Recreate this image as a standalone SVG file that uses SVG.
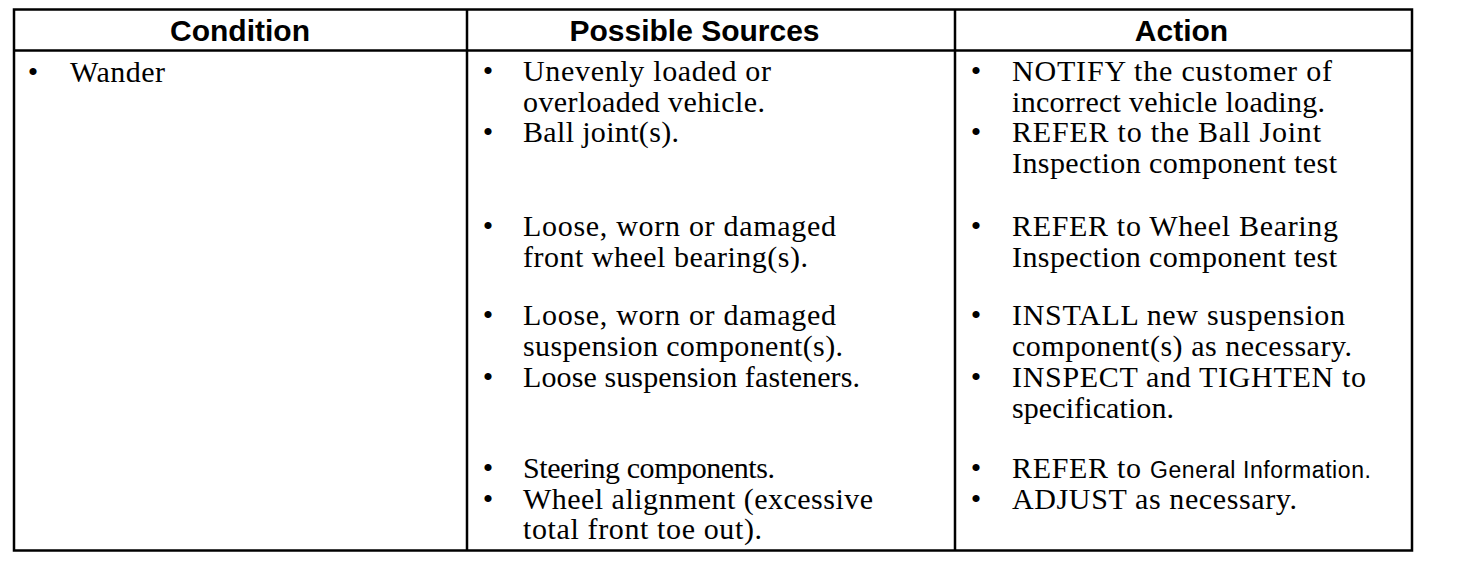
<svg xmlns="http://www.w3.org/2000/svg" width="1472" height="566" viewBox="0 0 1472 566">
<style>
.h{font-family:"Liberation Sans",Arial,sans-serif;font-weight:bold;font-size:30px;fill:#000}
.t{font-family:"Liberation Serif","Times New Roman",serif;font-size:30px;fill:#000}
.s{font-family:"Liberation Sans",Arial,sans-serif;font-size:23px;fill:#000}
.b{font-family:"Liberation Serif","Times New Roman",serif;font-size:30px;fill:#000;text-anchor:middle}
.ln{stroke:#000;stroke-width:2.5;fill:none}
</style>
<rect width="1472" height="566" fill="#fff"/>
<g id="table">
<rect class="ln" x="14" y="9.5" width="1398" height="541"/>
<line class="ln" x1="14" y1="50.5" x2="1412" y2="50.5"/>
<line class="ln" x1="467" y1="9.5" x2="467" y2="550.5"/>
<line class="ln" x1="955" y1="9.5" x2="955" y2="550.5"/>
</g>
<g id="header">
<text class="h" x="240" y="41" text-anchor="middle">Condition</text>
<text class="h" x="694.5" y="41" text-anchor="middle">Possible Sources</text>
<text class="h" x="1181.5" y="41" text-anchor="middle">Action</text>
</g>
<g id="condition">
<text class="b" x="33" y="82">•</text>
<text class="t" x="70" y="82" textLength="95" lengthAdjust="spacing">Wander</text>
</g>
<g id="sources">
<text class="b" x="488" y="81">•</text>
<text class="t" x="523" y="81" textLength="248" lengthAdjust="spacing">Unevenly loaded or</text>
<text class="t" x="523" y="112" textLength="242" lengthAdjust="spacing">overloaded vehicle.</text>
<text class="b" x="488" y="142">•</text>
<text class="t" x="523" y="142" textLength="156" lengthAdjust="spacing">Ball joint(s).</text>
<text class="b" x="488" y="236">•</text>
<text class="t" x="523" y="236" textLength="313" lengthAdjust="spacing">Loose, worn or damaged</text>
<text class="t" x="523" y="267" textLength="285" lengthAdjust="spacing">front wheel bearing(s).</text>
<text class="b" x="488" y="325">•</text>
<text class="t" x="523" y="325" textLength="313" lengthAdjust="spacing">Loose, worn or damaged</text>
<text class="t" x="523" y="356" textLength="320" lengthAdjust="spacing">suspension component(s).</text>
<text class="b" x="488" y="387">•</text>
<text class="t" x="523" y="387" textLength="337" lengthAdjust="spacing">Loose suspension fasteners.</text>
<text class="b" x="488" y="478">•</text>
<text class="t" x="523" y="478" textLength="252" lengthAdjust="spacing">Steering components.</text>
<text class="b" x="488" y="509">•</text>
<text class="t" x="523" y="509" textLength="350" lengthAdjust="spacing">Wheel alignment (excessive</text>
<text class="t" x="523" y="539" textLength="239" lengthAdjust="spacing">total front toe out).</text>
</g>
<g id="action">
<text class="b" x="976" y="81">•</text>
<text class="t" x="1012" y="81" textLength="320" lengthAdjust="spacing">NOTIFY the customer of</text>
<text class="t" x="1012" y="112" textLength="313" lengthAdjust="spacing">incorrect vehicle loading.</text>
<text class="b" x="976" y="142">•</text>
<text class="t" x="1012" y="142" textLength="309" lengthAdjust="spacing">REFER to the Ball Joint</text>
<text class="t" x="1012" y="173" textLength="325" lengthAdjust="spacing">Inspection component test</text>
<text class="b" x="976" y="236">•</text>
<text class="t" x="1012" y="236" textLength="326" lengthAdjust="spacing">REFER to Wheel Bearing</text>
<text class="t" x="1012" y="267" textLength="325" lengthAdjust="spacing">Inspection component test</text>
<text class="b" x="976" y="325">•</text>
<text class="t" x="1012" y="325" textLength="333" lengthAdjust="spacing">INSTALL new suspension</text>
<text class="t" x="1012" y="356" textLength="340" lengthAdjust="spacing">component(s) as necessary.</text>
<text class="b" x="976" y="387">•</text>
<text class="t" x="1012" y="387" textLength="354" lengthAdjust="spacing">INSPECT and TIGHTEN to</text>
<text class="t" x="1012" y="418" textLength="162" lengthAdjust="spacing">specification.</text>
<text class="b" x="976" y="478">•</text>
<text class="t" x="1012" y="478" textLength="129" lengthAdjust="spacing">REFER to</text>
<text class="s" x="1150" y="478" textLength="221" lengthAdjust="spacing">General Information.</text>
<text class="b" x="976" y="509">•</text>
<text class="t" x="1012" y="509" textLength="285" lengthAdjust="spacing">ADJUST as necessary.</text>
</g>
</svg>
